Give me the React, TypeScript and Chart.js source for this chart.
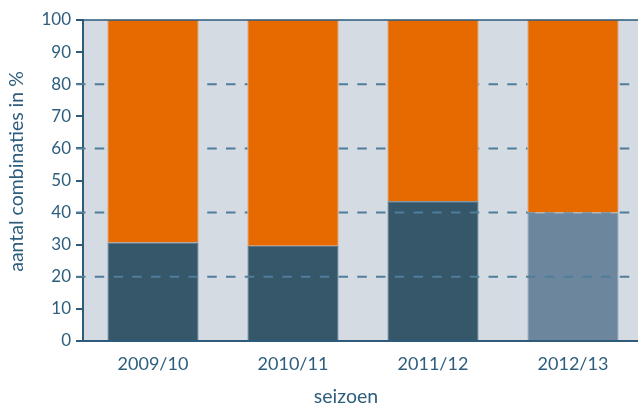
import React, { useEffect, useRef } from "react";
import { Chart, registerables } from "chart.js";

Chart.register(...registerables);

const seasons = ["2009/10", "2010/11", "2011/12", "2012/13"];
const lowerShare = [30.7, 29.7, 43.5, 40.0];
const upperShare = [69.3, 70.3, 56.5, 60.0];
const dashedGridValues = [20, 40, 60, 80];
const yTitle = "aantal combinaties in %";
const xTitle = "seizoen";

const FONT = "Lato, 'Open Sans', sans-serif";
const TEXT = "#2E5E7E";
const AXIS = "#2E5B7A";
const BG = "#D5DBE3";
const DARK = "#36566A";
const LIGHT = "#6C879D";
const ORANGE = "#E66A00";
const GRID = "#4F7D9A";

const decorPlugin = {
  id: "decor",
  beforeDraw(chart: any) {
    const { ctx, chartArea: a } = chart;
    ctx.save();
    ctx.fillStyle = BG;
    ctx.fillRect(a.left, a.top, a.right - a.left, a.bottom - a.top);
    ctx.restore();
  },
  afterDatasetsDraw(chart: any) {
    const { ctx, chartArea: a } = chart;
    const ys = chart.scales.y;
    const meta = chart.getDatasetMeta(1);
    ctx.save();
    ctx.beginPath();
    ctx.rect(0, 0, chart.width, chart.height);
    meta.data.forEach((bar: any) => {
      const p = bar.getProps(["x", "y", "base", "width"], true);
      ctx.rect(p.x - p.width / 2, Math.min(p.y, p.base), p.width, Math.abs(p.base - p.y));
    });
    ctx.clip("evenodd");
    ctx.strokeStyle = GRID;
    ctx.lineWidth = 2;
    ctx.setLineDash([9.5, 9.25]);
    for (const v of dashedGridValues) {
      const y = ys.getPixelForValue(v);
      ctx.beginPath();
      ctx.moveTo(a.left - 7, y);
      ctx.lineTo(a.right, y);
      ctx.stroke();
    }
    ctx.restore();
    ctx.save();
    ctx.strokeStyle = "rgba(40,88,122,0.75)";
    ctx.lineWidth = 2;
    ctx.beginPath();
    ctx.moveTo(a.left - 7, a.top);
    ctx.lineTo(a.right, a.top);
    ctx.stroke();
    ctx.restore();
  },
  afterDraw(chart: any) {
    const { ctx } = chart;
    ctx.save();
    ctx.fillStyle = TEXT;
    ctx.font = `19.5px ${FONT}`;
    ctx.textAlign = "center";
    ctx.textBaseline = "alphabetic";
    ctx.fillText(xTitle, 346, 403);
    ctx.translate(17, 171.5);
    ctx.rotate(-Math.PI / 2);
    ctx.textBaseline = "middle";
    ctx.fillText(yTitle, 0, 0);
    ctx.restore();
  },
};

export default function App() {
  const ref = useRef<HTMLCanvasElement | null>(null);
  useEffect(() => {
    if (!ref.current) return;
    const chart = new Chart(ref.current, {
      type: "bar",
      data: {
        labels: seasons,
        datasets: [
          {
            data: lowerShare,
            backgroundColor: [DARK, DARK, DARK, LIGHT],
            borderColor: ["#44687F", "#44687F", "#44687F", "#7690A4"],
            borderWidth: 1,
            barPercentage: 0.65,
            categoryPercentage: 1,
          },
          {
            data: upperShare,
            backgroundColor: ORANGE,
            borderColor: "#EA7A24",
            borderWidth: 1,
            barPercentage: 0.65,
            categoryPercentage: 1,
          },
        ],
      },
      options: {
        responsive: false,
        animation: false,
        devicePixelRatio: 1,
        layout: { padding: { top: 20, right: 7, left: 0, bottom: 0 } },
        plugins: { legend: { display: false }, tooltip: { enabled: false } },
        scales: {
          x: {
            stacked: true,
            grid: { display: false, drawTicks: false, tickLength: 0 },
            border: { display: true, color: AXIS, width: 2 },
            ticks: { color: TEXT, font: { family: FONT, size: 18 }, padding: 12 },
            afterFit: (s: any) => {
              s.height = 64;
            },
          },
          y: {
            stacked: true,
            min: 0,
            max: 100,
            ticks: { stepSize: 10, color: TEXT, font: { family: FONT, size: 17 }, padding: 5 },
            grid: { drawOnChartArea: false, drawTicks: true, tickLength: 7, color: AXIS, lineWidth: 2 },
            border: { display: true, color: AXIS, width: 2 },
            afterFit: (s: any) => {
              s.width = 83;
            },
          },
        },
      },
      plugins: [decorPlugin],
    });
    return () => chart.destroy();
  }, []);
  return (
    <div style={{ position: "fixed", left: 0, top: 0 }}>
      <canvas ref={ref} width={650} height={405} style={{ display: "block", width: 650, height: 405 }} />
    </div>
  );
}
